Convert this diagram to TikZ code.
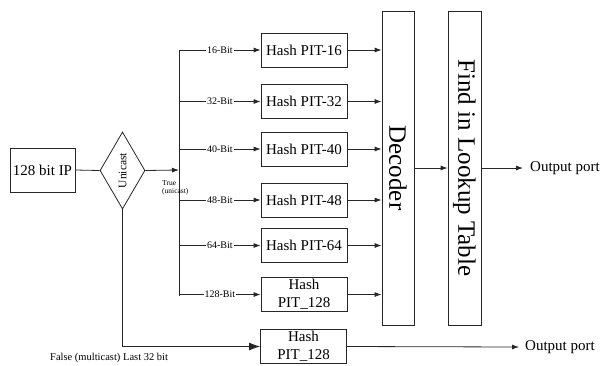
\documentclass[tikz,border=0pt]{standalone}
\usepackage{fontspec}
\setmainfont{Liberation Serif}
\usetikzlibrary{arrows.meta,shapes.geometric}
\begin{document}
\begin{tikzpicture}[x=1pt,y=-1pt,
 ln/.style={line width=0.8pt, draw=black!85},
 box/.style={ln, draw, minimum width=86pt, minimum height=34pt, inner sep=0pt, align=center, font=\fontsize{15}{18}\selectfont},
 tall/.style={ln, draw, minimum width=32pt, minimum height=314pt, inner sep=0pt},
 arr/.style={ln, -{Latex[length=7pt,width=5pt]}},
 bigarr/.style={ln, -{Latex[length=11pt,width=8pt]}},
 bitlbl/.style={fill=white, inner sep=1pt, font=\fontsize{10}{12}\selectfont},
 vtext/.style={font=\fontsize{25}{30}\selectfont, inner sep=0pt},
 plain/.style={font=\fontsize{15}{18}\selectfont, inner sep=0pt},
]
\useasboundingbox (0,0) rectangle (612,365);

% input and decision
\node[box, minimum width=65pt, minimum height=44pt] (ip) at (42.5,170) {128 bit IP};
\node[ln, draw, diamond, minimum width=45pt, minimum height=77pt, inner sep=0pt] (dia) at (122.5,170.5) {};
\node[rotate=90, font=\fontsize{11.5}{14}\selectfont, inner sep=0pt] at (dia) {Unicast};
\draw[ln] (ip.east) -- (dia.west);

% bus
\coordinate (bt) at (179,50);
\coordinate (bb) at (179,296);
\coordinate (bm) at (179,170);
\draw[ln] (bt) -- (bb);
\draw[arr] (dia.east) -- (bm);
\node[font=\fontsize{7.5}{8}\selectfont, align=left, inner sep=0pt, anchor=north west] at (162,180) {True\\(unicast)};

% hash boxes
\node[box] (h16) at (304,50) {Hash PIT-16};
\node[box] (h32) at (304,101.5) {Hash PIT-32};
\node[box] (h40) at (304,149) {Hash PIT-40};
\node[box] (h48) at (304,200) {Hash PIT-48};
\node[box] (h64) at (304,245.5) {Hash PIT-64};
\node[box] (h128) at (304,294.5) {Hash\\PIT\_128};
\node[box] (hb) at (303.5,346.5) {Hash\\PIT\_128};

% decoder and lookup
\node[tall] (dec) at (398,168) {};
\node[vtext, rotate=-90] at (dec) {Decoder};
\node[tall, minimum width=33pt] (lut) at (464.5,168) {};
\node[vtext, rotate=-90] at (lut) {Find in Lookup Table};

% branches
\foreach \h/\lab in {h16/16-Bit, h32/32-Bit, h40/40-Bit, h48/48-Bit, h64/64-Bit, h128/128-Bit}{
  \draw[arr] (bt |- \h.west) -- node[bitlbl] {\lab} (\h.west);
  \draw[arr] (\h.east) -- (dec.west |- \h.east);
}

% decoder -> lookup -> output
\draw[arr] (dec.east |- 0,168) -- (lut.west |- 0,168);
\coordinate (o1) at (523,168);
\draw[arr] (lut.east |- 0,168) -- (o1);
\node[plain, anchor=west] (op1) at (530,168) {Output port};

% multicast path
\draw[bigarr] (dia.south) |- (hb.west);
\coordinate (o2) at (519,347);
\draw[arr] (hb.east) -- (o2);
\node[plain, anchor=west] (op2) at (525,347) {Output port};
\node[font=\fontsize{10.5}{12}\selectfont, inner sep=0pt, anchor=west] at (50,358) {False (multicast) Last 32 bit};
\end{tikzpicture}
\end{document}
